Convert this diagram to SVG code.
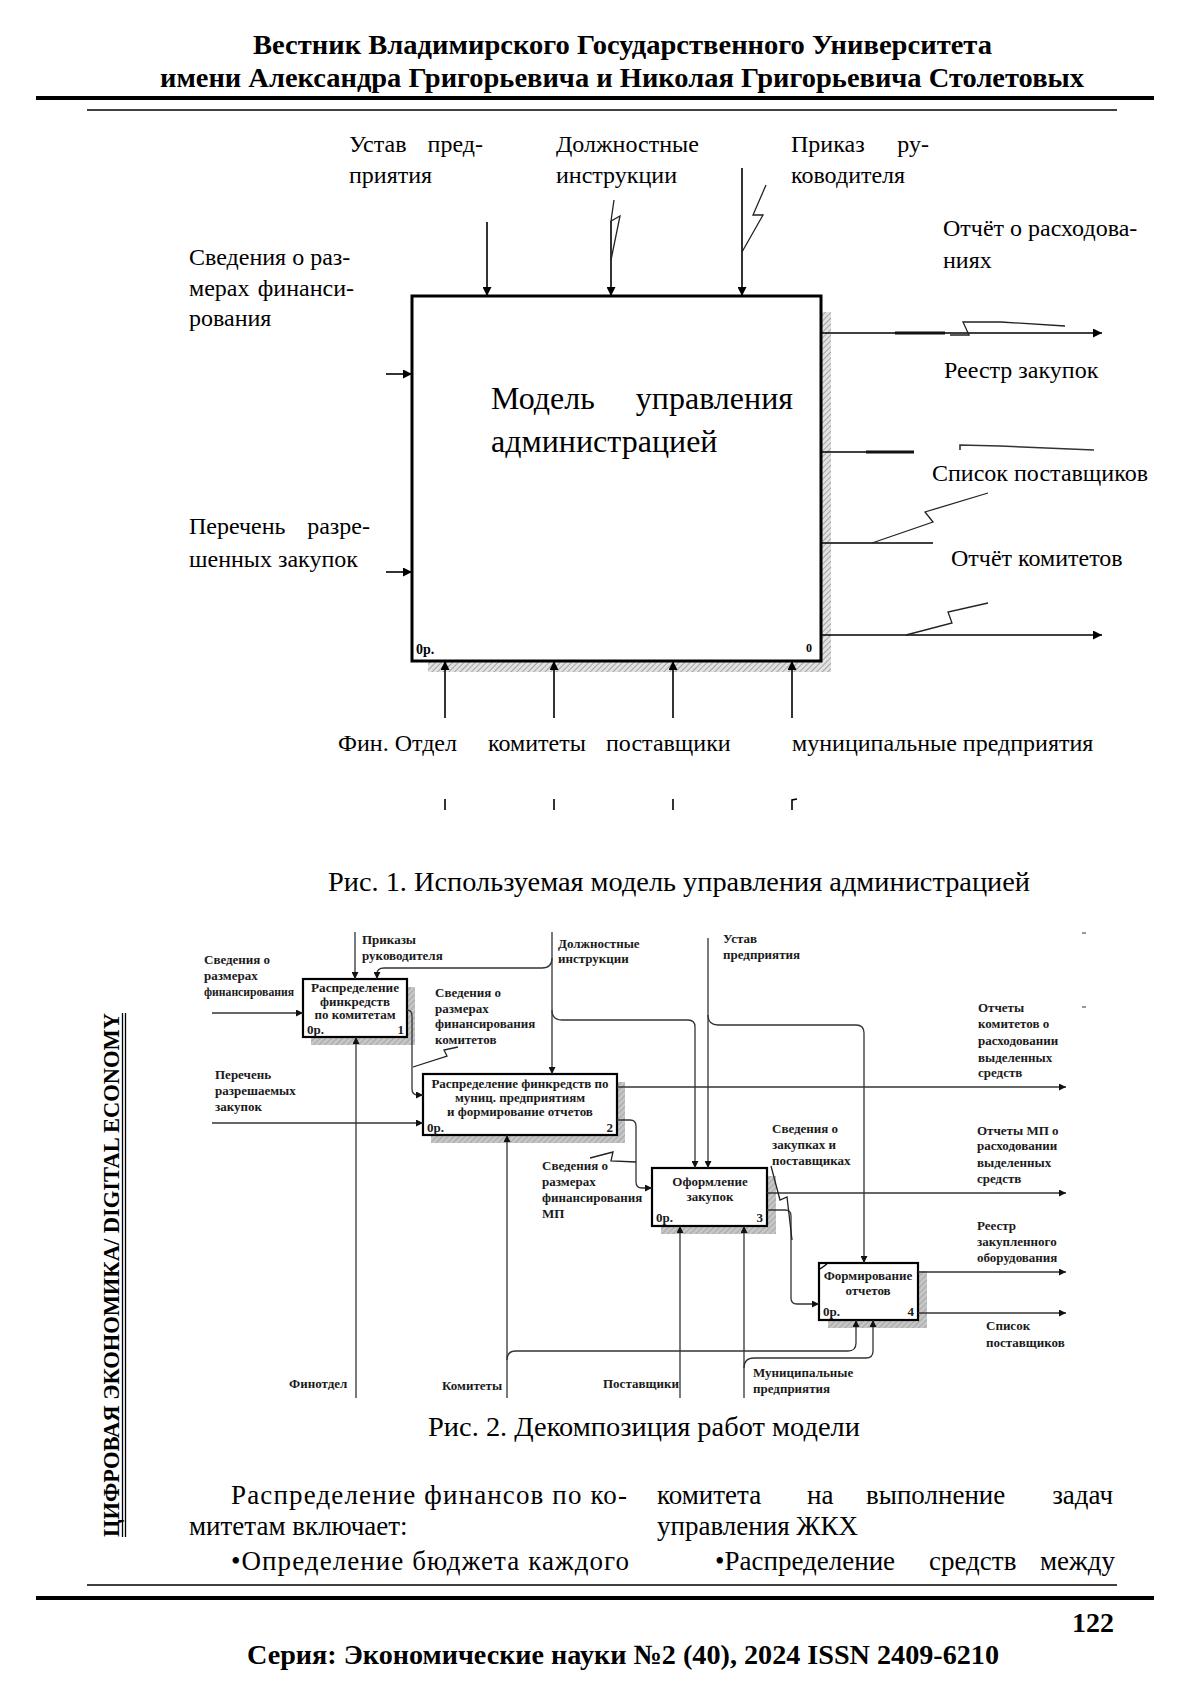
<svg xmlns="http://www.w3.org/2000/svg" width="1200" height="1697" viewBox="0 0 1200 1697">
<defs>
<style>
.t{font-family:"Liberation Serif","Times New Roman",serif;fill:#000}
.hd{font-size:28px;font-weight:bold}
.bd{font-size:27px}
.cp{font-size:28px}
.l1{font-size:24px}
.m1{font-size:32px}
.l2{font-size:13px;font-weight:bold;fill:#1a1a1a}
.ln1{stroke:#000;stroke-width:1.6;fill:none}
.ln2{stroke:#333;stroke-width:1.3;fill:none}
.zz{stroke:#222;stroke-width:1.3;fill:none}
.bx1{fill:#fff;stroke:#000;stroke-width:3}
.bx2{fill:#fff;stroke:#000;stroke-width:2.2}
.sh1{fill:url(#hatch1)}
.sh2{fill:url(#hatch2)}
.rule{stroke:#000}
</style>
<pattern id="hatch1" width="4" height="4" patternUnits="userSpaceOnUse" patternTransform="rotate(45)"><rect width="4" height="4" fill="#e2e2e2"/><line x1="0" y1="0" x2="0" y2="4" stroke="#8a8a8a" stroke-width="1.4"/></pattern>
<pattern id="hatch2" width="4" height="4" patternUnits="userSpaceOnUse" patternTransform="rotate(45)"><rect width="4" height="4" fill="#c6c6c6"/><line x1="0" y1="0" x2="0" y2="4" stroke="#9a9a9a" stroke-width="1.4"/></pattern>
<marker id="ar1" viewBox="0 0 10 10" refX="10" refY="5" markerWidth="13" markerHeight="9" markerUnits="userSpaceOnUse" orient="auto"><path d="M0,0L10,5L0,10z" fill="#000"/></marker>
<marker id="ar2" viewBox="0 0 10 10" refX="10" refY="5" markerWidth="9" markerHeight="7" markerUnits="userSpaceOnUse" orient="auto"><path d="M0,0L10,5L0,10z" fill="#111"/></marker>
</defs>
<rect width="1200" height="1697" fill="#fff"/>

<!-- header -->
<g id="header">
<text class="t hd" x="253" y="54" textLength="739" lengthAdjust="spacingAndGlyphs">Вестник Владимирского Государственного Университета</text>
<text class="t hd" x="160" y="87" textLength="924" lengthAdjust="spacingAndGlyphs">имени Александра Григорьевича и Николая Григорьевича Столетовых</text>
<line class="rule" x1="36" y1="98" x2="1154" y2="98" stroke-width="4"/>
<line class="rule" x1="87" y1="110" x2="1117" y2="110" stroke-width="1.5"/>
</g>

<!-- sidebar -->
<g id="sidebar">
<text class="t" font-weight="bold" font-size="24" transform="translate(119,1537) rotate(-90)" textLength="524" lengthAdjust="spacingAndGlyphs">ЦИФРОВАЯ ЭКОНОМИКА/ DIGITAL ECONOMY</text>
<line class="rule" x1="122.5" y1="1013" x2="122.5" y2="1537" stroke-width="1.3"/>
<line class="rule" x1="125.5" y1="1013" x2="125.5" y2="1537" stroke-width="1.3"/>
</g>

<!-- ============ Figure 1 ============ -->
<g id="fig1-node-A0">
<rect class="sh1" x="821" y="312" width="10" height="360"/>
<rect class="sh1" x="428" y="661" width="403" height="11"/>
<rect class="bx1" x="412" y="296" width="409" height="365"/>
<text class="t m1" x="491" y="409">Модель</text>
<text class="t m1" x="793" y="409" text-anchor="end">управления</text>
<text class="t m1" x="491" y="452">администрацией</text>
<text class="t" x="416" y="654" font-size="14" font-weight="bold">0р.</text>
<text class="t" x="806" y="652" font-size="12" font-weight="bold">0</text>
</g>

<g id="fig1-connectors">
<line class="ln1" x1="386" y1="374" x2="412" y2="374" marker-end="url(#ar1)"/>
<line class="ln1" x1="386" y1="572" x2="412" y2="572" marker-end="url(#ar1)"/>
<line class="ln1" x1="487" y1="222" x2="487" y2="296" marker-end="url(#ar1)"/>
<line class="ln1" x1="611" y1="221" x2="611" y2="296" marker-end="url(#ar1)"/>
<polyline class="zz" points="614,200 611,221 620,216 611,260"/>
<line class="ln1" x1="742" y1="168" x2="742" y2="296" marker-end="url(#ar1)"/>
<polyline class="zz" points="766,185 753,215 763,215 742,252"/>
<line class="ln1" x1="821" y1="333" x2="1102" y2="333" marker-end="url(#ar1)"/>
<line x1="895" y1="333" x2="945" y2="333" stroke="#111" stroke-width="3.2"/>
<polyline class="zz" points="950,335 969,335 963,322 1001,322 1065,326"/>
<line class="ln1" x1="821" y1="452" x2="914" y2="452"/>
<line x1="866" y1="452" x2="914" y2="452" stroke="#111" stroke-width="3.2"/>
<polyline points="960,450 960,445 1000,446 1094,450" fill="none" stroke="#333" stroke-width="1.6"/>
<line class="ln1" x1="821" y1="543" x2="933" y2="543"/>
<polyline class="zz" points="872,543 933,522 925,512 988,493"/>
<line class="ln1" x1="821" y1="635" x2="1102" y2="635" marker-end="url(#ar1)"/>
<polyline class="zz" points="906,635 952,623 948,612 988,603"/>
<line class="ln1" x1="445" y1="718" x2="445" y2="661" marker-end="url(#ar1)"/>
<line class="ln1" x1="554" y1="718" x2="554" y2="661" marker-end="url(#ar1)"/>
<line class="ln1" x1="673" y1="718" x2="673" y2="661" marker-end="url(#ar1)"/>
<line class="ln1" x1="792" y1="718" x2="792" y2="661" marker-end="url(#ar1)"/>
<line class="ln1" x1="445" y1="799" x2="445" y2="810"/>
<line class="ln1" x1="554" y1="799" x2="554" y2="810"/>
<line class="ln1" x1="673" y1="799" x2="673" y2="810"/>
<polyline class="ln1" points="797,799 792,800 792,810"/>
</g>

<g id="fig1-labels">
<text class="t l1" x="349" y="152">Устав</text>
<text class="t l1" x="483" y="152" text-anchor="end">пред-</text>
<text class="t l1" x="349" y="183">приятия</text>
<text class="t l1" x="556" y="152">Должностные</text>
<text class="t l1" x="556" y="183">инструкции</text>
<text class="t l1" x="791" y="152">Приказ</text>
<text class="t l1" x="929" y="152" text-anchor="end">ру-</text>
<text class="t l1" x="791" y="183">ководителя</text>
<text class="t l1" x="943" y="236">Отчёт о расходова-</text>
<text class="t l1" x="943" y="268">ниях</text>
<text class="t l1" x="189" y="265">Сведения о раз-</text>
<text class="t l1" x="189" y="296">мерах</text>
<text class="t l1" x="354" y="296" text-anchor="end">финанси-</text>
<text class="t l1" x="189" y="326">рования</text>
<text class="t l1" x="944" y="378">Реестр закупок</text>
<text class="t l1" x="932" y="481">Список поставщиков</text>
<text class="t l1" x="189" y="534">Перечень</text>
<text class="t l1" x="370" y="534" text-anchor="end">разре-</text>
<text class="t l1" x="189" y="567">шенных закупок</text>
<text class="t l1" x="951" y="566">Отчёт комитетов</text>
<text class="t l1" x="338" y="751">Фин. Отдел</text>
<text class="t l1" x="488" y="751">комитеты</text>
<text class="t l1" x="606" y="751">поставщики</text>
<text class="t l1" x="792" y="751">муниципальные предприятия</text>
</g>

<text id="caption1" class="t cp" x="328" y="891" textLength="702" lengthAdjust="spacingAndGlyphs">Рис. 1. Используемая модель управления администрацией</text>

<!-- ============ Figure 2 ============ -->
<g id="fig2-node-1">
<rect class="sh2" x="311" y="987" width="104" height="58"/>
<rect class="bx2" x="303" y="979" width="104" height="58"/>
<text class="t l2" x="355" y="992" text-anchor="middle" font-size="12.5" textLength="88" lengthAdjust="spacingAndGlyphs">Распределение</text>
<text class="t l2" x="355" y="1006" text-anchor="middle" font-size="12.5">финкредств</text>
<text class="t l2" x="355" y="1019" text-anchor="middle" font-size="12.5">по комитетам</text>
<text class="t l2" x="307" y="1034" font-size="12.5">0р.</text>
<text class="t l2" x="404" y="1034" text-anchor="end" font-size="12.5">1</text>
</g>
<g id="fig2-node-2">
<rect class="sh2" x="431" y="1082" width="194" height="61"/>
<rect class="bx2" x="423" y="1074" width="194" height="61"/>
<text class="t l2" x="520" y="1088" text-anchor="middle">Распределение финкредств по</text>
<text class="t l2" x="520" y="1102" text-anchor="middle">муниц. предприятиям</text>
<text class="t l2" x="520" y="1116" text-anchor="middle">и формирование отчетов</text>
<text class="t l2" x="427" y="1132">0р.</text>
<text class="t l2" x="613" y="1132" text-anchor="end">2</text>
</g>
<g id="fig2-node-3">
<rect class="sh2" x="661" y="1176" width="115" height="58"/>
<rect class="bx2" x="652" y="1168" width="115" height="58"/>
<text class="t l2" x="710" y="1186" text-anchor="middle">Оформление</text>
<text class="t l2" x="710" y="1201" text-anchor="middle">закупок</text>
<text class="t l2" x="656" y="1222">0р.</text>
<text class="t l2" x="763" y="1222" text-anchor="end">3</text>
</g>
<g id="fig2-node-4">
<rect class="sh2" x="828" y="1271" width="99" height="57"/>
<rect class="bx2" x="819" y="1263" width="99" height="57"/>
<line x1="820" y1="1269" x2="827" y2="1264" stroke="#000" stroke-width="1.5"/>
<text class="t l2" x="868" y="1280" text-anchor="middle">Формирование</text>
<text class="t l2" x="868" y="1295" text-anchor="middle">отчетов</text>
<text class="t l2" x="823" y="1316">0р.</text>
<text class="t l2" x="914" y="1316" text-anchor="end">4</text>
</g>

<g id="fig2-connectors">
<path class="ln2" d="M212,1013H303" marker-end="url(#ar2)"/>
<path class="ln2" d="M212,1123H423" marker-end="url(#ar2)"/>
<path class="ln2" d="M355,932V979" marker-end="url(#ar2)"/>
<path class="ln2" d="M552,932V1074" marker-end="url(#ar2)"/>
<path class="ln2" d="M552,958Q552,968 542,968H384Q377,968 377,974V979" marker-end="url(#ar2)"/>
<path class="ln2" d="M552,1010Q552,1020 562,1020H688Q695,1020 695,1027V1168" marker-end="url(#ar2)"/>
<path class="ln2" d="M708,938V1168" marker-end="url(#ar2)"/>
<path class="ln2" d="M708,1015Q708,1025 718,1025H856Q864,1025 864,1033V1263" marker-end="url(#ar2)"/>
<path class="ln2" d="M407,1010Q412,1010 412,1016V1089Q412,1095 418,1095H423" marker-end="url(#ar2)"/>
<polyline class="zz" points="413,1067 447,1056 444,1050 458,1047"/>
<path class="ln2" d="M617,1087H1066" marker-end="url(#ar2)"/>
<path class="ln2" d="M617,1120H630Q636,1120 636,1126V1182Q636,1188 642,1188H652" marker-end="url(#ar2)"/>
<polyline class="zz" points="590,1158 613,1152 611,1161 636,1162"/>
<path class="ln2" d="M767,1193H1066" marker-end="url(#ar2)"/>
<path class="ln2" d="M767,1210H785Q791,1210 791,1216V1298Q791,1304 797,1304H819" marker-end="url(#ar2)"/>
<polyline class="zz" points="771,1166 780,1200 787,1197 792,1240"/>
<path class="ln2" d="M918,1272H1066" marker-end="url(#ar2)"/>
<path class="ln2" d="M918,1313H1066" marker-end="url(#ar2)"/>
<path class="ln2" d="M356,1398V1037" marker-end="url(#ar2)"/>
<path class="ln2" d="M507,1398V1135" marker-end="url(#ar2)"/>
<path class="ln2" d="M507,1360Q507,1351 516,1351H848Q856,1351 856,1343V1320" marker-end="url(#ar2)"/>
<path class="ln2" d="M680,1398V1226" marker-end="url(#ar2)"/>
<path class="ln2" d="M744,1398V1226" marker-end="url(#ar2)"/>
<path class="ln2" d="M744,1368Q744,1358 754,1358H866Q873,1358 873,1351V1320" marker-end="url(#ar2)"/>
<line x1="1082" y1="933" x2="1086" y2="933" stroke="#555" stroke-width="1.2"/>
<line x1="1082" y1="1007" x2="1086" y2="1007" stroke="#555" stroke-width="1.2"/>
</g>

<g id="fig2-labels">
<text class="t l2" x="362" y="944">Приказы</text>
<text class="t l2" x="362" y="960">руководителя</text>
<text class="t l2" x="204" y="964" font-size="12.5">Сведения о</text>
<text class="t l2" x="204" y="980" font-size="12.5">размерах</text>
<text class="t l2" x="204" y="996" font-size="12.5" textLength="90" lengthAdjust="spacingAndGlyphs">финансирования</text>
<text class="t l2" x="558" y="948">Должностные</text>
<text class="t l2" x="558" y="963">инструкции</text>
<text class="t l2" x="723" y="943">Устав</text>
<text class="t l2" x="723" y="959">предприятия</text>
<text class="t l2" x="435" y="997">Сведения о</text>
<text class="t l2" x="435" y="1013">размерах</text>
<text class="t l2" x="435" y="1028">финансирования</text>
<text class="t l2" x="435" y="1044">комитетов</text>
<text class="t l2" x="215" y="1079">Перечень</text>
<text class="t l2" x="215" y="1095">разрешаемых</text>
<text class="t l2" x="215" y="1111">закупок</text>
<text class="t l2" x="978" y="1012">Отчеты</text>
<text class="t l2" x="978" y="1028">комитетов о</text>
<text class="t l2" x="978" y="1045">расходовании</text>
<text class="t l2" x="978" y="1062">выделенных</text>
<text class="t l2" x="978" y="1077">средств</text>
<text class="t l2" x="977" y="1135">Отчеты МП о</text>
<text class="t l2" x="977" y="1150">расходовании</text>
<text class="t l2" x="977" y="1167">выделенных</text>
<text class="t l2" x="977" y="1183">средств</text>
<text class="t l2" x="772" y="1133">Сведения о</text>
<text class="t l2" x="772" y="1149">закупках и</text>
<text class="t l2" x="772" y="1165">поставщиках</text>
<text class="t l2" x="542" y="1170">Сведения о</text>
<text class="t l2" x="542" y="1186">размерах</text>
<text class="t l2" x="542" y="1202">финансирования</text>
<text class="t l2" x="542" y="1218">МП</text>
<text class="t l2" x="977" y="1230">Реестр</text>
<text class="t l2" x="977" y="1246">закупленного</text>
<text class="t l2" x="977" y="1262">оборудования</text>
<text class="t l2" x="986" y="1330">Список</text>
<text class="t l2" x="986" y="1347">поставщиков</text>
<text class="t l2" x="289" y="1388">Финотдел</text>
<text class="t l2" x="442" y="1390">Комитеты</text>
<text class="t l2" x="603" y="1388">Поставщики</text>
<text class="t l2" x="753" y="1377">Муниципальные</text>
<text class="t l2" x="753" y="1393">предприятия</text>
</g>

<text id="caption2" class="t cp" x="428" y="1436" textLength="432" lengthAdjust="spacingAndGlyphs">Рис. 2. Декомпозиция работ модели</text>

<!-- body text -->
<g id="body">
<text class="t bd" x="231" y="1504" textLength="396" lengthAdjust="spacing">Распределение финансов по ко-</text>
<text class="t bd" x="189" y="1535">митетам включает:</text>
<text class="t bd" x="231" y="1570" textLength="398" lengthAdjust="spacing">•Определение бюджета каждого</text>
<text class="t bd" x="657" y="1504">комитета</text>
<text class="t bd" x="807" y="1504">на</text>
<text class="t bd" x="866" y="1504">выполнение</text>
<text class="t bd" x="1113" y="1504" text-anchor="end">задач</text>
<text class="t bd" x="657" y="1535">управления ЖКХ</text>
<text class="t bd" x="715" y="1570">•Распределение</text>
<text class="t bd" x="929" y="1570">средств</text>
<text class="t bd" x="1115" y="1570" text-anchor="end">между</text>
</g>

<!-- footer -->
<g id="footer">
<line class="rule" x1="87" y1="1585" x2="1117" y2="1585" stroke-width="1.5"/>
<line class="rule" x1="36" y1="1598" x2="1154" y2="1598" stroke-width="4"/>
<text class="t hd" x="1114" y="1632" text-anchor="end">122</text>
<text class="t hd" x="247" y="1664" textLength="752" lengthAdjust="spacingAndGlyphs">Серия: Экономические науки №2 (40), 2024 ISSN 2409-6210</text>
</g>
</svg>
